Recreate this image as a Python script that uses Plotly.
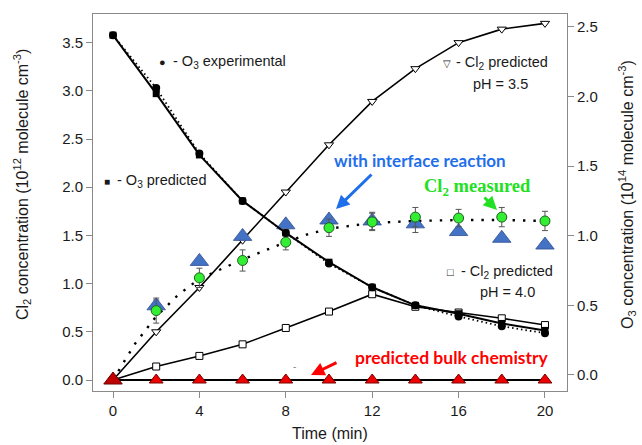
import plotly.graph_objects as go

# ---------------- data ----------------
t = [0, 2, 4, 6, 8, 10, 12, 14, 16, 18, 20]

o3_experimental = [2.44, 2.06, 1.59, 1.25, 1.02, 0.80, 0.63, 0.50, 0.42, 0.35, 0.30]
o3_predicted = [2.44, 2.02, 1.58, 1.25, 1.02, 0.81, 0.63, 0.50, 0.44, 0.37, 0.32]

cl2_pred_ph35 = [0.0, 0.50, 0.96, 1.45, 1.95, 2.44, 2.89, 3.23, 3.50, 3.64, 3.70]
cl2_pred_ph40 = [0.0, 0.14, 0.25, 0.37, 0.54, 0.71, 0.89, 0.76, 0.70, 0.64, 0.57]

t_meas = [2, 4, 6, 8, 10, 12, 14, 16, 18, 20]
cl2_interface = [0.77, 1.23, 1.49, 1.61, 1.66, 1.65, 1.62, 1.54, 1.47, 1.40]
cl2_interface_err = [0.06, 0.0, 0.0, 0.0, 0.0, 0.09, 0.09, 0.0, 0.0, 0.0]
cl2_measured = [0.72, 1.06, 1.24, 1.43, 1.58, 1.64, 1.69, 1.68, 1.69, 1.65]
cl2_measured_err = [0.13, 0.10, 0.11, 0.08, 0.09, 0.09, 0.10, 0.09, 0.10, 0.10]

t_fit = [0, 1, 2, 3, 4, 5, 6, 7, 8, 9, 10, 12, 14, 16, 18, 20]
cl2_measured_fit = [0.0, 0.37, 0.66, 0.88, 1.05, 1.15, 1.25, 1.34, 1.43, 1.51, 1.57,
                    1.63, 1.65, 1.66, 1.66, 1.65]

cl2_bulk = [0.0] * len(t)

x_ticks = [0, 4, 8, 12, 16, 20]
y_ticks = [0.0, 0.5, 1.0, 1.5, 2.0, 2.5, 3.0, 3.5]
y2_ticks = [0.0, 0.5, 1.0, 1.5, 2.0, 2.5]

# ---------------- layout geometry ----------------
W, H = 642, 445
L, R, T, B = 93, 567, 14, 391


def px(x):
    return (x - L) / (R - L)


def py(y):
    return (B - y) / (B - T)


SANS = "Liberation Sans, Arial, Helvetica, sans-serif"
BOLD = "Lato, Open Sans, sans-serif"

fig = go.Figure()

# bulk chemistry line
fig.add_trace(go.Scatter(x=t, y=cl2_bulk, mode="lines", line=dict(color="black", width=2),
                         yaxis="y", showlegend=False))

# O3 experimental (dotted) and predicted (solid)
fig.add_trace(go.Scatter(x=t, y=o3_experimental, yaxis="y2", mode="lines+markers",
                         line=dict(color="black", width=1.8, dash="1.5px,3px"),
                         marker=dict(symbol="circle", size=8, color="black"), showlegend=False))
fig.add_trace(go.Scatter(x=t, y=o3_predicted, yaxis="y2", mode="lines+markers",
                         line=dict(color="black", width=2),
                         marker=dict(symbol="square", size=7, color="black"), showlegend=False))

# Cl2 predicted pH 3.5 and pH 4.0
fig.add_trace(go.Scatter(x=t, y=cl2_pred_ph35, yaxis="y", mode="lines+markers",
                         line=dict(color="black", width=1.6),
                         marker=dict(symbol="triangle-down", size=8, color="white",
                                     line=dict(color="black", width=1)), showlegend=False))
fig.add_trace(go.Scatter(x=t, y=cl2_pred_ph40, yaxis="y", mode="lines+markers",
                         line=dict(color="black", width=1.6),
                         marker=dict(symbol="square", size=7, color="white",
                                     line=dict(color="black", width=1)), showlegend=False))

# fitted curve through measured Cl2
fig.add_trace(go.Scatter(x=t_fit, y=cl2_measured_fit, yaxis="y", mode="lines",
                         line=dict(color="black", width=2.4, dash="2.4px,8px"),
                         showlegend=False))

# with interface reaction (blue triangles)
fig.add_trace(go.Scatter(x=t_meas, y=cl2_interface, yaxis="y", mode="markers",
                         error_y=dict(type="data", array=cl2_interface_err, color="#555555",
                                      thickness=1, width=3),
                         marker=dict(symbol="triangle-up", size=16, color="#4472C4",
                                     line=dict(color="#2F4F8F", width=0.8)), showlegend=False))

# Cl2 measured (green circles)
fig.add_trace(go.Scatter(x=t_meas, y=cl2_measured, yaxis="y", mode="markers",
                         error_y=dict(type="data", array=cl2_measured_err, color="#555555",
                                      thickness=1, width=3),
                         marker=dict(symbol="circle", size=10, color="#33EE33",
                                     line=dict(color="#1F5F1F", width=1)), showlegend=False))

# red triangles of bulk chemistry
fig.add_trace(go.Scatter(x=t[1:], y=cl2_bulk[1:], mode="markers", yaxis="y",
                         marker=dict(symbol="triangle-up", size=12, color="#EE0000",
                                     line=dict(color="#7A0000", width=1)), showlegend=False))
fig.add_trace(go.Scatter(x=t[:1], y=cl2_bulk[:1], mode="markers", yaxis="y",
                         marker=dict(symbol="triangle-up", size=16, color="#C00000",
                                     line=dict(color="#6A0000", width=1)), showlegend=False))

ann = []


def text(x, y, s, size=14.5, color="#1a1a1a", family=SANS, xanchor="left", angle=0):
    ann.append(dict(x=px(x), y=py(y), xref="paper", yref="paper", text=s, showarrow=False,
                    xanchor=xanchor, yanchor="middle", textangle=angle,
                    font=dict(family=family, size=size, color=color)))


def arrow(hx, hy, tx, ty, color):
    ann.append(dict(x=px(hx), y=py(hy), xref="paper", yref="paper", text="", showarrow=True,
                    ax=tx - hx, ay=ty - hy, arrowhead=2, arrowsize=0.9, arrowwidth=3,
                    arrowcolor=color))


# symbol keys
text(162, 62, "●", size=11, xanchor="center")
text(171, 62, "- O<sub>3</sub> experimental")
text(107, 181, "■", size=10, xanchor="center")
text(115, 181, "- O<sub>3</sub> predicted")
text(447, 63, "▽", size=10, xanchor="center")
text(454, 63, "- Cl<sub>2</sub> predicted")
text(500, 84, "pH = 3.5", xanchor="center")
text(450, 272, "□", size=11, xanchor="center")
text(459, 272, "- Cl<sub>2</sub> predicted")
text(507, 292, "pH = 4.0", xanchor="center")

# coloured labels
text(420, 160, "<b>with interface reaction</b>", size=17, color="#1F6FEB", family=BOLD,
     xanchor="center")
text(477, 187, "<b>Cl<sub>2</sub> measured</b>", size=18.5, color="#22E022",
     family="Liberation Serif, Times New Roman, serif", xanchor="center")
text(452, 357, "<b>predicted bulk chemistry</b>", size=17.5, color="#FF0000", family=BOLD,
     xanchor="center")
text(294, 366, "-", size=10, color="#888888", xanchor="center")

arrow(336, 209, 373, 173, "#1F6FEB")
arrow(497, 210, 483, 196, "#22E022")
arrow(311, 375, 338, 362, "#FF0000")

# axis titles
text(330, 433, "Time (min)", size=16, xanchor="center")
text(22, 185, "Cl<sub>2</sub> concentration (10<sup>12</sup> molecule cm<sup>-3</sup>)", size=16,
     xanchor="center", angle=-90)
text(627, 195, "O<sub>3</sub> concentration (10<sup>14</sup> molecule cm<sup>-3</sup>)", size=16,
     xanchor="center", angle=-90)

axis_common = dict(showgrid=False, zeroline=False, showline=True, linecolor="#8a8a8a",
                   linewidth=1, ticks="outside", ticklen=6, tickcolor="#8a8a8a",
                   tickfont=dict(family=SANS, size=15, color="#1a1a1a"))

fig.update_layout(
    width=W, height=H,
    margin=dict(l=L, r=W - R, t=T, b=H - B, pad=0),
    paper_bgcolor="white", plot_bgcolor="white",
    showlegend=False,
    xaxis=dict(range=[-0.926, 21.02], tickvals=x_ticks, mirror=True, **axis_common),
    yaxis=dict(range=[-0.114, 3.797], tickvals=y_ticks, tickformat=".1f", mirror=True,
               **axis_common),
    yaxis2=dict(range=[-0.115, 2.592], tickvals=y2_ticks, tickformat=".1f", overlaying="y",
                side="right", **axis_common),
    annotations=ann,
)

fig.write_html("out.html")
